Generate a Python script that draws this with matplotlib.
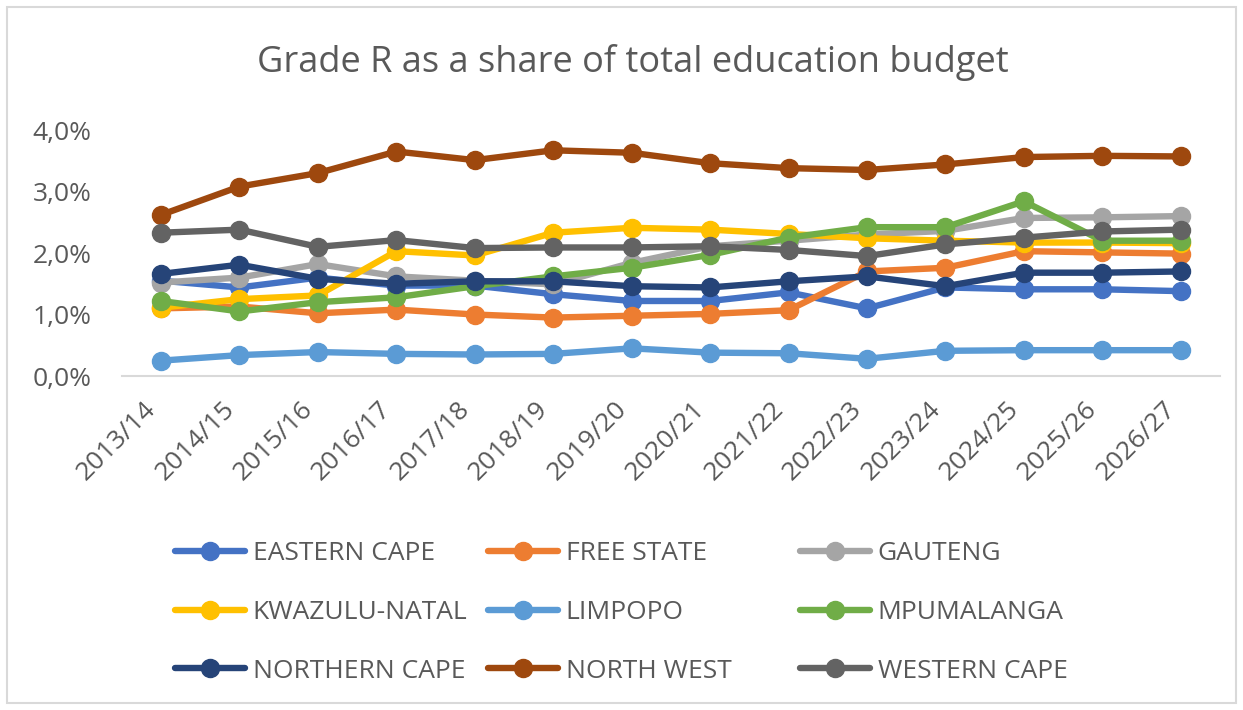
import matplotlib
matplotlib.use("Agg")
import matplotlib.pyplot as plt
import matplotlib.transforms as mtransforms
from matplotlib.ticker import FuncFormatter
from matplotlib.patches import Rectangle

plt.rcParams['font.family'] = ['Open Sans', 'DejaVu Sans']

years = ['2013/14', '2014/15', '2015/16', '2016/17', '2017/18', '2018/19', '2019/20',
         '2020/21', '2021/22', '2022/23', '2023/24', '2024/25', '2025/26', '2026/27']

eastern_cape = [1.55, 1.44, 1.60, 1.47, 1.47, 1.33, 1.22, 1.22, 1.36, 1.10, 1.44, 1.41, 1.41, 1.38]
free_state = [1.10, 1.13, 1.02, 1.08, 1.00, 0.95, 0.98, 1.01, 1.07, 1.70, 1.76, 2.03, 2.01, 1.99]
gauteng = [1.52, 1.60, 1.82, 1.62, 1.55, 1.49, 1.84, 2.11, 2.20, 2.30, 2.36, 2.57, 2.58, 2.60]
kwazulu_natal = [1.11, 1.25, 1.31, 2.03, 1.96, 2.33, 2.41, 2.38, 2.31, 2.24, 2.20, 2.17, 2.17, 2.16]
limpopo = [0.25, 0.34, 0.39, 0.36, 0.35, 0.36, 0.45, 0.38, 0.37, 0.28, 0.41, 0.42, 0.42, 0.42]
mpumalanga = [1.22, 1.05, 1.20, 1.28, 1.46, 1.62, 1.76, 1.97, 2.25, 2.42, 2.42, 2.84, 2.20, 2.20]
northern_cape = [1.66, 1.81, 1.58, 1.50, 1.54, 1.54, 1.46, 1.44, 1.54, 1.62, 1.46, 1.68, 1.68, 1.70]
north_west = [2.62, 3.08, 3.30, 3.65, 3.51, 3.67, 3.63, 3.46, 3.38, 3.35, 3.44, 3.56, 3.58, 3.57]
western_cape = [2.33, 2.38, 2.10, 2.21, 2.08, 2.09, 2.09, 2.11, 2.05, 1.95, 2.14, 2.25, 2.35, 2.38]

names = ['EASTERN CAPE', 'FREE STATE', 'GAUTENG', 'KWAZULU-NATAL', 'LIMPOPO',
         'MPUMALANGA', 'NORTHERN CAPE', 'NORTH WEST', 'WESTERN CAPE']
series = [eastern_cape, free_state, gauteng, kwazulu_natal, limpopo,
          mpumalanga, northern_cape, north_west, western_cape]
colors = ['#4472C4', '#ED7D31', '#A5A5A5', '#FFC000', '#5B9BD5',
          '#70AD47', '#264478', '#9E480E', '#636363']

text_col = '#595959'

fig = plt.figure(figsize=(12.43, 7.10), dpi=100)
ax = fig.add_axes([0.098, 0.4704, 0.8835, 0.3465])

x = list(range(len(years)))
handles = []
for vals, name, c in zip(series, names, colors):
    h, = ax.plot(x, vals, color=c, lw=4.6, marker='o', ms=13, label=name,
                 solid_capstyle='round', clip_on=False)
    handles.append(h)

ax.set_xlim(-0.5, len(years) - 0.5)
ax.set_ylim(0, 4)
ax.set_yticks([0, 1, 2, 3, 4])
ax.yaxis.set_major_formatter(FuncFormatter(lambda v, p: f"{v:.1f}%".replace('.', ',')))
ax.set_xticks(x)
ax.set_xticklabels(years, rotation=45, ha='right', va='top')
offset = mtransforms.ScaledTranslation(10 / 100, 0, fig.dpi_scale_trans)
for lab in ax.get_xticklabels():
    lab.set_transform(lab.get_transform() + offset)

ax.tick_params(axis='both', length=0, labelsize=19, labelcolor=text_col)
ax.tick_params(axis='y', pad=22)
ax.tick_params(axis='x', pad=15)

for s in ['top', 'right', 'left']:
    ax.spines[s].set_visible(False)
ax.spines['bottom'].set_color('#D9D9D9')
ax.spines['bottom'].set_linewidth(1.5)

fig.text(0.509, 0.912, 'Grade R as a share of total education budget',
         ha='center', va='center', fontsize=26, color=text_col)

# legend: three columns placed like the Excel layout
col_x = [175, 488, 800]
for ci in range(3):
    idx = [ci, ci + 3, ci + 6]
    leg = fig.legend([handles[i] for i in idx], [names[i] for i in idx],
                     loc='upper left', bbox_to_anchor=(col_x[ci] / 1243, 1 - 541 / 710),
                     frameon=False, fontsize=19, handlelength=2.65, handletextpad=0.3,
                     labelspacing=1.28, borderpad=0, borderaxespad=0)
    for t in leg.get_texts():
        t.set_color(text_col)

fig.patches.append(Rectangle((7 / 1243, 7 / 710), 1 - 14 / 1243, 1 - 14 / 710,
                             transform=fig.transFigure, fill=False,
                             edgecolor='#D9D9D9', lw=1.5))

fig.savefig('out.png', dpi=100)
